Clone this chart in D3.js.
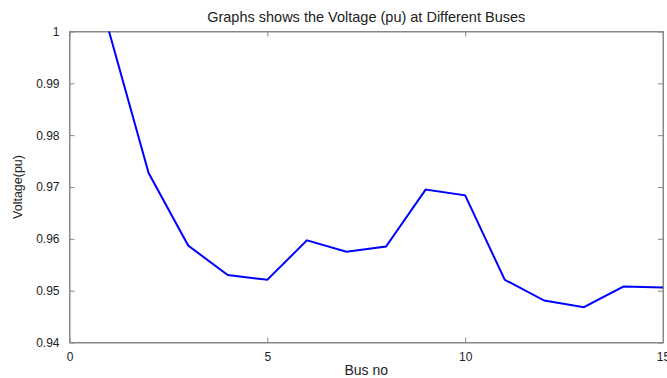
<!DOCTYPE html>
<html>
  <head>
    <meta charset="utf-8">
    <title>Voltage at different buses</title>
    <script src="https://d3js.org/d3.v7.min.js"></script>
    <style>
      body { margin: 0; background: #fff; }
      svg { font-family: "Liberation Sans", Arial, sans-serif; }
      .axis path, .axis line { stroke: #888; }
      .axis text { fill: #222; font-size: 12px; }
    </style>
  </head>
  <body>
    <svg id="chart" width="667" height="378"></svg>
    <script>
      // data
      var buses = [1, 2, 3, 4, 5, 6, 7, 8, 9, 10, 11, 12, 13, 14, 15];
      var voltage = [1.0, 0.9727, 0.9587, 0.9530, 0.9521, 0.9597, 0.9575, 0.9585,
                     0.9695, 0.9684, 0.9521, 0.9481, 0.9468, 0.9508, 0.9506];
      var xTicks = [0, 5, 10, 15];
      var yTicks = [0.94, 0.95, 0.96, 0.97, 0.98, 0.99, 1];

      var svg = d3.select("#chart");
      var margin = { top: 31.5, right: 4, bottom: 35.5, left: 69.5 };
      var width = 667, height = 378;

      var x = d3.scaleLinear().domain([0, 15]).range([margin.left, width - margin.right]);
      var y = d3.scaleLinear().domain([0.94, 1]).range([height - margin.bottom, margin.top]);

      // box
      svg.append("rect")
        .attr("x", x(0)).attr("y", y(1))
        .attr("width", x(15) - x(0)).attr("height", y(0.94) - y(1))
        .attr("fill", "none").attr("stroke", "#888");

      var fmtY = function(d) { return d === 1 ? "1" : d3.format(".2f")(d); };

      svg.append("g").attr("class", "axis")
        .attr("transform", "translate(0," + y(0.94) + ")")
        .call(d3.axisBottom(x).tickValues(xTicks).tickSizeInner(-5).tickSizeOuter(0).tickPadding(10));
      svg.append("g").attr("class", "axis")
        .attr("transform", "translate(0," + y(1) + ")")
        .call(d3.axisTop(x).tickValues(xTicks).tickSizeInner(-5).tickSizeOuter(0).tickFormat(""));
      svg.append("g").attr("class", "axis")
        .attr("transform", "translate(" + x(0) + ",0)")
        .call(d3.axisLeft(y).tickValues(yTicks).tickFormat(fmtY).tickSizeInner(-5).tickSizeOuter(0).tickPadding(10));
      svg.append("g").attr("class", "axis")
        .attr("transform", "translate(" + x(15) + ",0)")
        .call(d3.axisRight(y).tickValues(yTicks).tickSizeInner(-5).tickSizeOuter(0).tickFormat(""));

      // line
      var line = d3.line()
        .x(function(d, i) { return x(buses[i]); })
        .y(function(d) { return y(d); });
      svg.append("path")
        .datum(voltage)
        .attr("d", line)
        .attr("fill", "none")
        .attr("stroke", "#0000ff")
        .attr("stroke-width", 2);

      // labels
      svg.append("text")
        .attr("x", (x(0) + x(15)) / 2).attr("y", 22)
        .attr("text-anchor", "middle").attr("font-size", 14.5).attr("fill", "#222")
        .text("Graphs shows the Voltage (pu) at Different Buses");
      svg.append("text")
        .attr("x", (x(0) + x(15)) / 2).attr("y", 375)
        .attr("text-anchor", "middle").attr("font-size", 14).attr("fill", "#222")
        .text("Bus no");
      svg.append("text")
        .attr("transform", "translate(22," + ((y(0.94) + y(1)) / 2) + ") rotate(-90)")
        .attr("text-anchor", "middle").attr("font-size", 12.5).attr("fill", "#222")
        .text("Voltage(pu)");
    </script>
  </body>
</html>
